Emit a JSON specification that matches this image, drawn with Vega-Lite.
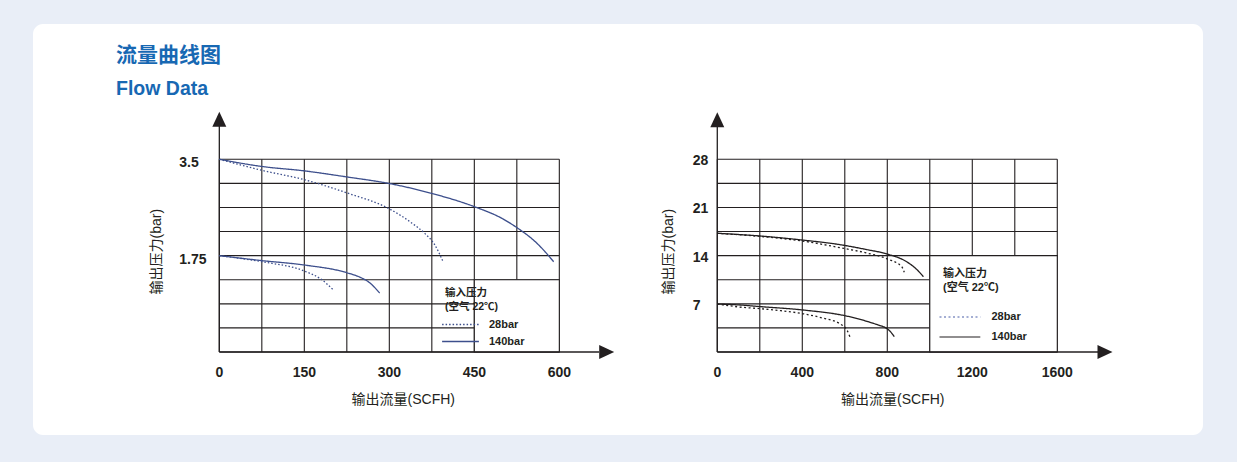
{
  "$schema": "https://vega.github.io/schema/vega-lite/v6.json",
  "width": 1170,
  "height": 411,
  "autosize": "none",
  "padding": {"left": 33, "top": 24, "right": 34, "bottom": 27},
  "background": "#e9eef7",
  "config": {
    "view": {"fill": "#ffffff", "stroke": null, "cornerRadius": 10},
    "font": "Liberation Sans, Noto Sans CJK SC"
  },
  "title": {
    "text": "流量曲线图",
    "subtitle": "Flow Data",
    "anchor": "start",
    "frame": "group",
    "orient": "top",
    "offset": 0,
    "dx": 83,
    "dy": 74,
    "font": "Liberation Sans, Noto Sans CJK SC",
    "fontSize": 21,
    "fontWeight": "bold",
    "color": "#1768b3",
    "subtitleFont": "Liberation Sans",
    "subtitleFontSize": 19.5,
    "subtitleFontWeight": "bold",
    "subtitleColor": "#1768b3",
    "subtitlePadding": 14
  },
  "datasets": {
    "curvesL": [
      {"series": "28bar", "curve": "28t", "flow": 0, "p": 3.5},
      {"series": "28bar", "curve": "28t", "flow": 37, "p": 3.4},
      {"series": "28bar", "curve": "28t", "flow": 75, "p": 3.3},
      {"series": "28bar", "curve": "28t", "flow": 150, "p": 3.13},
      {"series": "28bar", "curve": "28t", "flow": 225, "p": 2.89},
      {"series": "28bar", "curve": "28t", "flow": 300, "p": 2.6},
      {"series": "28bar", "curve": "28t", "flow": 340, "p": 2.34},
      {"series": "28bar", "curve": "28t", "flow": 363, "p": 2.15},
      {"series": "28bar", "curve": "28t", "flow": 380, "p": 1.95},
      {"series": "28bar", "curve": "28t", "flow": 394, "p": 1.66},
      {"series": "140bar", "curve": "140t", "flow": 0, "p": 3.5},
      {"series": "140bar", "curve": "140t", "flow": 75, "p": 3.37},
      {"series": "140bar", "curve": "140t", "flow": 150, "p": 3.29},
      {"series": "140bar", "curve": "140t", "flow": 225, "p": 3.18},
      {"series": "140bar", "curve": "140t", "flow": 300, "p": 3.06},
      {"series": "140bar", "curve": "140t", "flow": 375, "p": 2.88},
      {"series": "140bar", "curve": "140t", "flow": 450, "p": 2.64},
      {"series": "140bar", "curve": "140t", "flow": 500, "p": 2.42},
      {"series": "140bar", "curve": "140t", "flow": 525, "p": 2.26},
      {"series": "140bar", "curve": "140t", "flow": 560, "p": 1.98},
      {"series": "140bar", "curve": "140t", "flow": 590, "p": 1.64},
      {"series": "140bar", "curve": "140b", "flow": 0, "p": 1.75},
      {"series": "140bar", "curve": "140b", "flow": 75, "p": 1.66},
      {"series": "140bar", "curve": "140b", "flow": 150, "p": 1.58},
      {"series": "140bar", "curve": "140b", "flow": 225, "p": 1.44},
      {"series": "140bar", "curve": "140b", "flow": 250, "p": 1.35},
      {"series": "140bar", "curve": "140b", "flow": 265, "p": 1.26},
      {"series": "140bar", "curve": "140b", "flow": 283, "p": 1.07},
      {"series": "28bar", "curve": "28b", "flow": 0, "p": 1.75},
      {"series": "28bar", "curve": "28b", "flow": 75, "p": 1.64},
      {"series": "28bar", "curve": "28b", "flow": 150, "p": 1.47},
      {"series": "28bar", "curve": "28b", "flow": 180, "p": 1.32},
      {"series": "28bar", "curve": "28b", "flow": 201, "p": 1.13}
    ],
    "curvesR": [
      {"series": "140bar", "curve": "140t", "flow": 0, "p": 17.25},
      {"series": "140bar", "curve": "140t", "flow": 200, "p": 16.86},
      {"series": "140bar", "curve": "140t", "flow": 400, "p": 16.27},
      {"series": "140bar", "curve": "140t", "flow": 577, "p": 15.6},
      {"series": "140bar", "curve": "140t", "flow": 700, "p": 14.9},
      {"series": "140bar", "curve": "140t", "flow": 805, "p": 14.19},
      {"series": "140bar", "curve": "140t", "flow": 891, "p": 13.12},
      {"series": "140bar", "curve": "140t", "flow": 938, "p": 12.01},
      {"series": "140bar", "curve": "140t", "flow": 970, "p": 10.94},
      {"series": "28bar", "curve": "28t", "flow": 0, "p": 17.25},
      {"series": "28bar", "curve": "28t", "flow": 200, "p": 16.8},
      {"series": "28bar", "curve": "28t", "flow": 400, "p": 16.13},
      {"series": "28bar", "curve": "28t", "flow": 577, "p": 15.16},
      {"series": "28bar", "curve": "28t", "flow": 700, "p": 14.4},
      {"series": "28bar", "curve": "28t", "flow": 805, "p": 13.47},
      {"series": "28bar", "curve": "28t", "flow": 868, "p": 12.4},
      {"series": "28bar", "curve": "28t", "flow": 880, "p": 11.58},
      {"series": "140bar", "curve": "140b", "flow": 0, "p": 6.97},
      {"series": "140bar", "curve": "140b", "flow": 107, "p": 6.83},
      {"series": "140bar", "curve": "140b", "flow": 200, "p": 6.6},
      {"series": "140bar", "curve": "140b", "flow": 405, "p": 6.1},
      {"series": "140bar", "curve": "140b", "flow": 600, "p": 5.28},
      {"series": "140bar", "curve": "140b", "flow": 672, "p": 4.75},
      {"series": "140bar", "curve": "140b", "flow": 720, "p": 4.3},
      {"series": "140bar", "curve": "140b", "flow": 760, "p": 3.9},
      {"series": "140bar", "curve": "140b", "flow": 790, "p": 3.55},
      {"series": "140bar", "curve": "140b", "flow": 812, "p": 3.05},
      {"series": "140bar", "curve": "140b", "flow": 833, "p": 2.22},
      {"series": "28bar", "curve": "28b", "flow": 0, "p": 6.97},
      {"series": "28bar", "curve": "28b", "flow": 100, "p": 6.55},
      {"series": "28bar", "curve": "28b", "flow": 200, "p": 6.3},
      {"series": "28bar", "curve": "28b", "flow": 300, "p": 6.0},
      {"series": "28bar", "curve": "28b", "flow": 405, "p": 5.55},
      {"series": "28bar", "curve": "28b", "flow": 500, "p": 4.9},
      {"series": "28bar", "curve": "28b", "flow": 577, "p": 4.1},
      {"series": "28bar", "curve": "28b", "flow": 610, "p": 3.2},
      {"series": "28bar", "curve": "28b", "flow": 624, "p": 2.22}
    ],
    "gridXL": [{"v": 0}, {"v": 75}, {"v": 150}, {"v": 225}, {"v": 300}, {"v": 375}, {"v": 450}, {"v": 525}, {"v": 600}],
    "gridYL": [{"v": 0}, {"v": 0.4375}, {"v": 0.875}, {"v": 1.3125}, {"v": 1.75}, {"v": 2.1875}, {"v": 2.625}, {"v": 3.0625}, {"v": 3.5}],
    "gridXR": [{"v": 0}, {"v": 200}, {"v": 400}, {"v": 600}, {"v": 800}, {"v": 1000}, {"v": 1200}, {"v": 1400}, {"v": 1600}],
    "gridYR": [{"v": 0}, {"v": 3.5}, {"v": 7}, {"v": 10.5}, {"v": 14}, {"v": 17.5}, {"v": 21}, {"v": 24.5}, {"v": 28}],
    "ticksXL": [{"v": 0, "lab": "0"}, {"v": 150, "lab": "150"}, {"v": 300, "lab": "300"}, {"v": 450, "lab": "450"}, {"v": 600, "lab": "600"}],
    "ticksYL": [{"v": 1.75, "lab": "1.75"}, {"v": 3.5, "lab": "3.5"}],
    "ticksXR": [{"v": 0, "lab": "0"}, {"v": 400, "lab": "400"}, {"v": 800, "lab": "800"}, {"v": 1200, "lab": "1200"}, {"v": 1600, "lab": "1600"}],
    "ticksYR": [{"v": 7, "lab": "7"}, {"v": 14, "lab": "14"}, {"v": 21, "lab": "21"}, {"v": 28, "lab": "28"}],
    "one": [{}]
  },
  "layer": [
    {
      "layer": [
        {
          "data": {"name": "gridXL"},
          "mark": {"type": "rule", "color": "#231f20", "strokeWidth": 1.1},
          "encoding": {
            "x": {"field": "v", "type": "quantitative", "scale": {"domain": [-328.8, 1735.9], "nice": false, "zero": false}, "axis": null},
            "y": {"datum": 0, "type": "quantitative", "scale": {"domain": [-1.5075, 5.9575], "nice": false, "zero": false}, "axis": null},
            "y2": {"datum": 3.5}
          }
        },
        {
          "data": {"name": "gridYL"},
          "mark": {"type": "rule", "color": "#231f20", "strokeWidth": 1.1},
          "encoding": {
            "y": {"field": "v", "type": "quantitative", "scale": {"domain": [-1.5075, 5.9575], "nice": false, "zero": false}, "axis": null},
            "x": {"datum": 0, "type": "quantitative", "scale": {"domain": [-328.8, 1735.9], "nice": false, "zero": false}, "axis": null},
            "x2": {"datum": 600}
          }
        },
        {
          "data": {"name": "one"},
          "mark": {"type": "rect", "fill": "#ffffff", "stroke": "#231f20", "strokeWidth": 1.1},
          "encoding": {
            "x": {"datum": 450, "type": "quantitative", "scale": {"domain": [-328.8, 1735.9], "nice": false, "zero": false}, "axis": null},
            "x2": {"datum": 600},
            "y": {"datum": 0, "type": "quantitative", "scale": {"domain": [-1.5075, 5.9575], "nice": false, "zero": false}, "axis": null},
            "y2": {"datum": 1.3125}
          }
        },
        {
          "data": {"name": "one"},
          "mark": {"type": "rule", "color": "#231f20", "strokeWidth": 1.3},
          "encoding": {
            "x": {"datum": 0, "type": "quantitative", "scale": {"domain": [-328.8, 1735.9], "nice": false, "zero": false}, "axis": null},
            "y": {"datum": 0, "type": "quantitative", "scale": {"domain": [-1.5075, 5.9575], "nice": false, "zero": false}, "axis": null},
            "y2": {"datum": 4.11}
          }
        },
        {
          "data": {"name": "one"},
          "mark": {"type": "rule", "color": "#231f20", "strokeWidth": 1.3},
          "encoding": {
            "x": {"datum": 0, "type": "quantitative", "scale": {"domain": [-328.8, 1735.9], "nice": false, "zero": false}, "axis": null},
            "x2": {"datum": 670},
            "y": {"datum": 0, "type": "quantitative", "scale": {"domain": [-1.5075, 5.9575], "nice": false, "zero": false}, "axis": null}
          }
        },
        {
          "data": {"name": "one"},
          "mark": {"type": "point", "shape": "M0,-1L-0.93,1L0.93,1Z", "size": 225, "filled": true, "opacity": 1, "color": "#231f20", "strokeWidth": 0},
          "encoding": {
            "x": {"datum": 0, "type": "quantitative", "scale": {"domain": [-328.8, 1735.9], "nice": false, "zero": false}, "axis": null},
            "y": {"datum": 4.228, "type": "quantitative", "scale": {"domain": [-1.5075, 5.9575], "nice": false, "zero": false}, "axis": null}
          }
        },
        {
          "data": {"name": "one"},
          "mark": {"type": "point", "shape": "M1,0L-1,-0.93L-1,0.93Z", "size": 225, "filled": true, "opacity": 1, "color": "#231f20", "strokeWidth": 0},
          "encoding": {
            "x": {"datum": 683.6, "type": "quantitative", "scale": {"domain": [-328.8, 1735.9], "nice": false, "zero": false}, "axis": null},
            "y": {"datum": 0, "type": "quantitative", "scale": {"domain": [-1.5075, 5.9575], "nice": false, "zero": false}, "axis": null}
          }
        },
        {
          "data": {"name": "curvesL"},
          "mark": {"type": "line", "interpolate": "monotone", "color": "#3d4f8c", "strokeWidth": 1.3},
          "encoding": {
            "x": {"field": "flow", "type": "quantitative", "scale": {"domain": [-328.8, 1735.9], "nice": false, "zero": false}, "axis": null},
            "y": {"field": "p", "type": "quantitative", "scale": {"domain": [-1.5075, 5.9575], "nice": false, "zero": false}, "axis": null},
            "detail": {"field": "curve", "type": "nominal"},
            "strokeDash": {
              "field": "series", "type": "nominal",
              "scale": {"domain": ["28bar", "140bar"], "range": [[1.5, 2], [1, 0]]},
              "legend": {
                "orient": "none", "legendX": 412, "legendY": 264, "direction": "vertical", "padding": 0,
                "title": ["输入压力", "(空气 22℃)"],
                "titleFont": "Liberation Sans, Noto Sans CJK SC", "titleFontSize": 10.5, "titleFontWeight": "bold",
                "titleColor": "#231f20", "titleLineHeight": 13.5, "titlePadding": 7, "titleAnchor": "start",
                "labelFont": "Liberation Sans", "labelFontSize": 11, "labelFontWeight": "bold", "labelColor": "#231f20",
                "labelOffset": 23,
                "symbolType": "M-4.6,0L4.6,0", "symbolSize": 64, "symbolStrokeWidth": 1.3,
                "symbolStrokeColor": "#3d4f8c", "symbolOffset": 10, "rowPadding": 5
              }
            }
          }
        },
        {
          "data": {"name": "ticksXL"},
          "mark": {"type": "text", "font": "Liberation Sans", "fontSize": 14, "fontWeight": "bold", "color": "#231f20", "baseline": "middle", "align": "center", "dy": 21},
          "encoding": {
            "x": {"field": "v", "type": "quantitative", "scale": {"domain": [-328.8, 1735.9], "nice": false, "zero": false}, "axis": null},
            "y": {"datum": 0, "type": "quantitative", "scale": {"domain": [-1.5075, 5.9575], "nice": false, "zero": false}, "axis": null},
            "text": {"field": "lab"}
          }
        },
        {
          "data": {"name": "ticksYL"},
          "mark": {"type": "text", "font": "Liberation Sans", "fontSize": 14, "fontWeight": "bold", "color": "#231f20", "baseline": "middle", "align": "left", "dx": -40, "dy": 4},
          "encoding": {
            "x": {"datum": 0, "type": "quantitative", "scale": {"domain": [-328.8, 1735.9], "nice": false, "zero": false}, "axis": null},
            "y": {"field": "v", "type": "quantitative", "scale": {"domain": [-1.5075, 5.9575], "nice": false, "zero": false}, "axis": null},
            "text": {"field": "lab"}
          }
        },
        {
          "data": {"name": "one"},
          "mark": {"type": "text", "text": "输出流量(SCFH)", "font": "Liberation Sans, Noto Sans CJK SC", "fontSize": 14, "color": "#231f20", "baseline": "middle", "align": "center", "dx": 14, "dy": 48},
          "encoding": {
            "x": {"datum": 300, "type": "quantitative", "scale": {"domain": [-328.8, 1735.9], "nice": false, "zero": false}, "axis": null},
            "y": {"datum": 0, "type": "quantitative", "scale": {"domain": [-1.5075, 5.9575], "nice": false, "zero": false}, "axis": null}
          }
        },
        {
          "data": {"name": "one"},
          "mark": {"type": "text", "text": "输出压力(bar)", "angle": 270, "font": "Liberation Sans, Noto Sans CJK SC", "fontSize": 14, "color": "#231f20", "baseline": "middle", "align": "center", "dx": 4, "dy": -62},
          "encoding": {
            "x": {"datum": 0, "type": "quantitative", "scale": {"domain": [-328.8, 1735.9], "nice": false, "zero": false}, "axis": null},
            "y": {"datum": 1.75, "type": "quantitative", "scale": {"domain": [-1.5075, 5.9575], "nice": false, "zero": false}, "axis": null}
          }
        }
      ]
    },
    {
      "layer": [
        {
          "data": {"name": "gridXR"},
          "mark": {"type": "rule", "color": "#231f20", "strokeWidth": 1.1},
          "encoding": {
            "x": {"field": "v", "type": "quantitative", "scale": {"domain": [-3220.2, 2285.7], "nice": false, "zero": false}, "axis": null},
            "y": {"datum": 0, "type": "quantitative", "scale": {"domain": [-12.06, 47.66], "nice": false, "zero": false}, "axis": null},
            "y2": {"datum": 28}
          }
        },
        {
          "data": {"name": "gridYR"},
          "mark": {"type": "rule", "color": "#231f20", "strokeWidth": 1.1},
          "encoding": {
            "y": {"field": "v", "type": "quantitative", "scale": {"domain": [-12.06, 47.66], "nice": false, "zero": false}, "axis": null},
            "x": {"datum": 0, "type": "quantitative", "scale": {"domain": [-3220.2, 2285.7], "nice": false, "zero": false}, "axis": null},
            "x2": {"datum": 1600}
          }
        },
        {
          "data": {"name": "one"},
          "mark": {"type": "rect", "fill": "#ffffff", "stroke": "#231f20", "strokeWidth": 1.1},
          "encoding": {
            "x": {"datum": 1000, "type": "quantitative", "scale": {"domain": [-3220.2, 2285.7], "nice": false, "zero": false}, "axis": null},
            "x2": {"datum": 1600},
            "y": {"datum": 0, "type": "quantitative", "scale": {"domain": [-12.06, 47.66], "nice": false, "zero": false}, "axis": null},
            "y2": {"datum": 14}
          }
        },
        {
          "data": {"name": "one"},
          "mark": {"type": "rule", "color": "#231f20", "strokeWidth": 1.3},
          "encoding": {
            "x": {"datum": 0, "type": "quantitative", "scale": {"domain": [-3220.2, 2285.7], "nice": false, "zero": false}, "axis": null},
            "y": {"datum": 0, "type": "quantitative", "scale": {"domain": [-12.06, 47.66], "nice": false, "zero": false}, "axis": null},
            "y2": {"datum": 32.74}
          }
        },
        {
          "data": {"name": "one"},
          "mark": {"type": "rule", "color": "#231f20", "strokeWidth": 1.3},
          "encoding": {
            "x": {"datum": 0, "type": "quantitative", "scale": {"domain": [-3220.2, 2285.7], "nice": false, "zero": false}, "axis": null},
            "x2": {"datum": 1792},
            "y": {"datum": 0, "type": "quantitative", "scale": {"domain": [-12.06, 47.66], "nice": false, "zero": false}, "axis": null}
          }
        },
        {
          "data": {"name": "one"},
          "mark": {"type": "point", "shape": "M0,-1L-0.93,1L0.93,1Z", "size": 225, "filled": true, "opacity": 1, "color": "#231f20", "strokeWidth": 0},
          "encoding": {
            "x": {"datum": 0, "type": "quantitative", "scale": {"domain": [-3220.2, 2285.7], "nice": false, "zero": false}, "axis": null},
            "y": {"datum": 33.75, "type": "quantitative", "scale": {"domain": [-12.06, 47.66], "nice": false, "zero": false}, "axis": null}
          }
        },
        {
          "data": {"name": "one"},
          "mark": {"type": "point", "shape": "M1,0L-1,-0.93L-1,0.93Z", "size": 225, "filled": true, "opacity": 1, "color": "#231f20", "strokeWidth": 0},
          "encoding": {
            "x": {"datum": 1824.5, "type": "quantitative", "scale": {"domain": [-3220.2, 2285.7], "nice": false, "zero": false}, "axis": null},
            "y": {"datum": 0, "type": "quantitative", "scale": {"domain": [-12.06, 47.66], "nice": false, "zero": false}, "axis": null}
          }
        },
        {
          "data": {"name": "curvesR"},
          "mark": {"type": "line", "interpolate": "monotone", "color": "#231f20", "strokeWidth": 1.3},
          "encoding": {
            "x": {"field": "flow", "type": "quantitative", "scale": {"domain": [-3220.2, 2285.7], "nice": false, "zero": false}, "axis": null},
            "y": {"field": "p", "type": "quantitative", "scale": {"domain": [-12.06, 47.66], "nice": false, "zero": false}, "axis": null},
            "detail": {"field": "curve", "type": "nominal"},
            "strokeDash": {
              "field": "series", "type": "nominal",
              "scale": {"domain": ["28bar", "140bar"], "range": [[2, 2.5], [1, 0]]},
              "legend": {
                "orient": "none", "legendX": 910, "legendY": 244, "direction": "vertical", "padding": 0,
                "title": ["输入压力", "(空气 22℃)"],
                "titleFont": "Liberation Sans, Noto Sans CJK SC", "titleFontSize": 11, "titleFontWeight": "bold",
                "titleColor": "#231f20", "titleLineHeight": 13.5, "titlePadding": 19, "titleAnchor": "start",
                "labelFont": "Liberation Sans", "labelFontSize": 11, "labelFontWeight": "bold", "labelColor": "#231f20",
                "labelOffset": 26,
                "symbolType": "M-5.1,0L5.1,0", "symbolSize": 64, "symbolStrokeWidth": 1.2,
                "symbolStrokeColor": "#231f20", "symbolOffset": 11.4, "rowPadding": 8,
                "encode": {"symbols": {"update": {"stroke": [{"test": "datum.label === '28bar'", "value": "#4a5ea8"}, {"value": "#231f20"}]}}}
              }
            }
          }
        },
        {
          "data": {"name": "ticksXR"},
          "mark": {"type": "text", "font": "Liberation Sans", "fontSize": 14, "fontWeight": "bold", "color": "#231f20", "baseline": "middle", "align": "center", "dy": 21},
          "encoding": {
            "x": {"field": "v", "type": "quantitative", "scale": {"domain": [-3220.2, 2285.7], "nice": false, "zero": false}, "axis": null},
            "y": {"datum": 0, "type": "quantitative", "scale": {"domain": [-12.06, 47.66], "nice": false, "zero": false}, "axis": null},
            "text": {"field": "lab"}
          }
        },
        {
          "data": {"name": "ticksYR"},
          "mark": {"type": "text", "font": "Liberation Sans", "fontSize": 14, "fontWeight": "bold", "color": "#231f20", "baseline": "middle", "align": "left", "dx": -24.5, "dy": 2},
          "encoding": {
            "x": {"datum": 0, "type": "quantitative", "scale": {"domain": [-3220.2, 2285.7], "nice": false, "zero": false}, "axis": null},
            "y": {"field": "v", "type": "quantitative", "scale": {"domain": [-12.06, 47.66], "nice": false, "zero": false}, "axis": null},
            "text": {"field": "lab"}
          }
        },
        {
          "data": {"name": "one"},
          "mark": {"type": "text", "text": "输出流量(SCFH)", "font": "Liberation Sans, Noto Sans CJK SC", "fontSize": 14, "color": "#231f20", "baseline": "middle", "align": "center", "dx": 5.5, "dy": 48},
          "encoding": {
            "x": {"datum": 800, "type": "quantitative", "scale": {"domain": [-3220.2, 2285.7], "nice": false, "zero": false}, "axis": null},
            "y": {"datum": 0, "type": "quantitative", "scale": {"domain": [-12.06, 47.66], "nice": false, "zero": false}, "axis": null}
          }
        },
        {
          "data": {"name": "one"},
          "mark": {"type": "text", "text": "输出压力(bar)", "angle": 270, "font": "Liberation Sans, Noto Sans CJK SC", "fontSize": 14, "color": "#231f20", "baseline": "middle", "align": "center", "dx": 4, "dy": -48.5},
          "encoding": {
            "x": {"datum": 0, "type": "quantitative", "scale": {"domain": [-3220.2, 2285.7], "nice": false, "zero": false}, "axis": null},
            "y": {"datum": 14, "type": "quantitative", "scale": {"domain": [-12.06, 47.66], "nice": false, "zero": false}, "axis": null}
          }
        }
      ]
    }
  ],
  "resolve": {
    "scale": {"x": "independent", "y": "independent", "strokeDash": "independent"},
    "legend": {"strokeDash": "independent"}
  }
}
